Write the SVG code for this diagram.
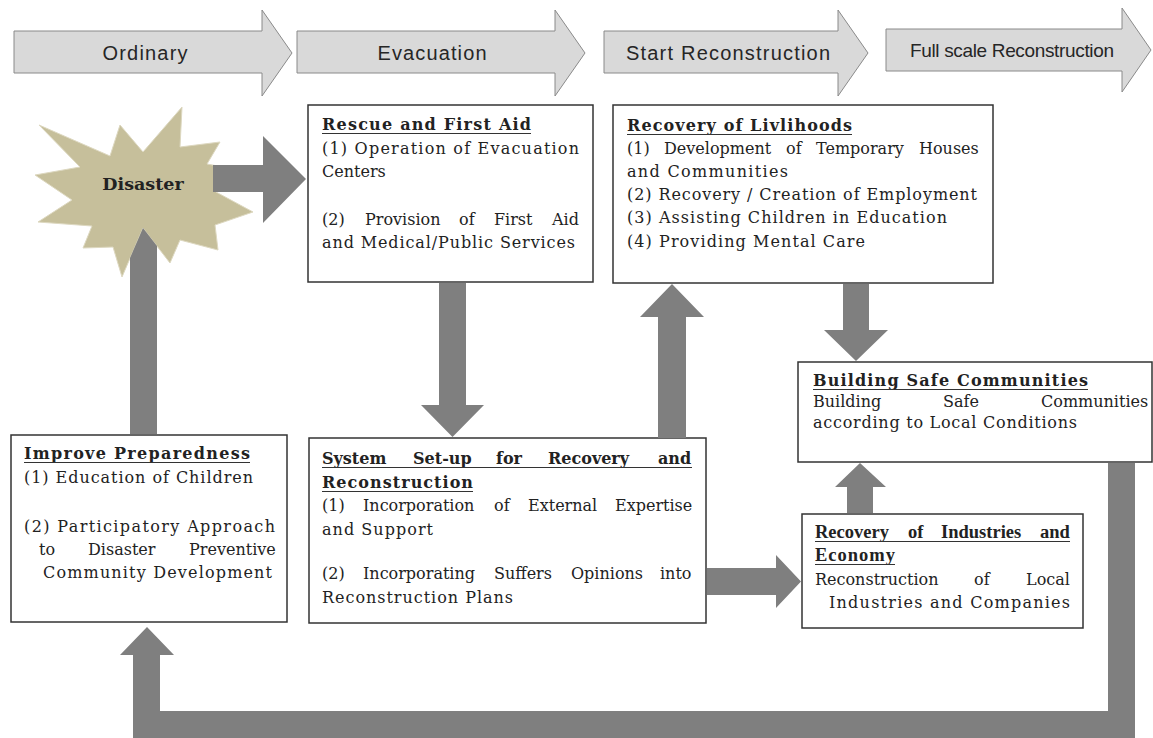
<svg xmlns="http://www.w3.org/2000/svg" width="1153" height="738" viewBox="0 0 1153 738">
<style>
.bg{fill:#ffffff}
.phase{fill:#d9d9d9;stroke:#8a8a8a;stroke-width:1}
.ph{font-family:"Liberation Sans","Open Sans",sans-serif;font-size:20px;fill:#262626;text-anchor:middle}
.box{fill:#ffffff;stroke:#333333;stroke-width:1.5}
.t{font-family:"DejaVu Serif","Liberation Serif",serif;font-size:16px;fill:#222222}
.b{font-weight:bold}
.c{font-family:"Liberation Serif","DejaVu Serif",serif;font-size:18.5px;font-weight:bold;fill:#222222}
.ul{stroke:#333333;stroke-width:1.2}
.arr{fill:#7f7f7f}
.star{fill:#c6bf9b;stroke:#ddd8c0;stroke-width:1}
</style>
<rect class="bg" x="0" y="0" width="1153" height="738"/>

<g id="phases">
  <g id="phase-ordinary">
    <path class="phase" d="M14,31 H262 V10 L292,53 L262,96 V73 H14 Z"/>
    <text class="ph" x="145" y="60" textLength="85">Ordinary</text>
  </g>
  <g id="phase-evacuation">
    <path class="phase" d="M297,31 H555 V10 L585,53 L555,96 V73 H297 Z"/>
    <text class="ph" x="432" y="60" textLength="109">Evacuation</text>
  </g>
  <g id="phase-start">
    <path class="phase" d="M604,31 H838 V10 L868,53 L838,96 V73 H604 Z"/>
    <text class="ph" x="728" y="60" textLength="204">Start Reconstruction</text>
  </g>
  <g id="phase-full">
    <path class="phase" d="M886,29 H1122 V8 L1151,50 L1122,92 V71 H886 Z"/>
    <text class="ph" x="1012" y="57" style="font-size:19px" textLength="204">Full scale Reconstruction</text>
  </g>
</g>

<g id="disaster">
  <polygon class="star" points="39,125 110,156 120,125 143,152 182,107 180,147 220,142 207,164 250,172 216,192 253,212 215,225 218,250 180,240 170,263 143,228 122,277 113,247 83,248 92,226 38,222 72,200 35,175 80,167"/>
  <text class="t b" x="143" y="190" style="font-size:17.5px;text-anchor:middle">Disaster</text>
</g>

<g id="rescue">
  <rect class="box" x="308" y="105" width="285" height="177"/>
  <text class="t b" x="322" y="130" textLength="209">Rescue and First Aid</text>
  <line class="ul" x1="322" y1="133.5" x2="531" y2="133.5"/>
  <text class="t" x="322" y="154" textLength="257">(1) Operation of Evacuation</text>
  <text class="t" x="322" y="177">Centers</text>
  <text class="t" y="225"><tspan x="322">(2)</tspan><tspan x="365">Provision</tspan><tspan x="459">of</tspan><tspan x="494">First</tspan><tspan x="552">Aid</tspan></text>
  <text class="t" x="322" y="248" textLength="253">and Medical/Public Services</text>
</g>

<g id="livelihoods">
  <rect class="box" x="613" y="105" width="380" height="178"/>
  <text class="t b" x="627" y="131" textLength="225">Recovery of Livlihoods</text>
  <line class="ul" x1="627" y1="134.5" x2="852" y2="134.5"/>
  <text class="t" y="154"><tspan x="627">(1)</tspan><tspan x="664">Development</tspan><tspan x="786">of</tspan><tspan x="816">Temporary</tspan><tspan x="919">Houses</tspan></text>
  <text class="t" x="627" y="177" textLength="161">and Communities</text>
  <text class="t" x="627" y="200" textLength="350">(2) Recovery / Creation of Employment</text>
  <text class="t" x="627" y="223" textLength="320">(3) Assisting Children in Education</text>
  <text class="t" x="627" y="247" textLength="238">(4) Providing Mental Care</text>
</g>

<g id="safe-communities">
  <rect class="box" x="798" y="362" width="354" height="100"/>
  <text class="t b" x="813" y="386" textLength="275">Building Safe Communities</text>
  <line class="ul" x1="813" y1="389.5" x2="1088" y2="389.5"/>
  <text class="t" y="407"><tspan x="813">Building</tspan><tspan x="943">Safe</tspan><tspan x="1041">Communities</tspan></text>
  <text class="t" x="813" y="428" textLength="264">according to Local Conditions</text>
</g>

<g id="preparedness">
  <rect class="box" x="11" y="435" width="276" height="187"/>
  <text class="t b" x="24" y="459" textLength="226">Improve Preparedness</text>
  <line class="ul" x1="24" y1="462.5" x2="250" y2="462.5"/>
  <text class="t" x="24" y="483" textLength="229">(1) Education of Children</text>
  <text class="t" x="24" y="532" textLength="251">(2) Participatory Approach</text>
  <text class="t" y="555"><tspan x="39">to</tspan><tspan x="88">Disaster</tspan><tspan x="189">Preventive</tspan></text>
  <text class="t" x="43" y="578" textLength="229">Community Development</text>
</g>

<g id="system-setup">
  <rect class="box" x="309" y="438" width="397" height="185"/>
  <text class="t b" y="464"><tspan x="322">System</tspan><tspan x="413">Set-up</tspan><tspan x="496">for</tspan><tspan x="548">Recovery</tspan><tspan x="658">and</tspan></text>
  <line class="ul" x1="322" y1="467.5" x2="692" y2="467.5"/>
  <text class="t b" x="322" y="488" textLength="151">Reconstruction</text>
  <line class="ul" x1="322" y1="491.5" x2="473" y2="491.5"/>
  <text class="t" y="511"><tspan x="322">(1)</tspan><tspan x="363">Incorporation</tspan><tspan x="494">of</tspan><tspan x="528">External</tspan><tspan x="615">Expertise</tspan></text>
  <text class="t" x="322" y="535" textLength="111">and Support</text>
  <text class="t" y="579"><tspan x="322">(2)</tspan><tspan x="363">Incorporating</tspan><tspan x="494">Suffers</tspan><tspan x="571">Opinions</tspan><tspan x="660">into</tspan></text>
  <text class="t" x="322" y="603" textLength="191">Reconstruction Plans</text>
</g>

<g id="industries">
  <rect class="box" x="802" y="514" width="281" height="114"/>
  <text class="c" y="538"><tspan x="815">Recovery</tspan><tspan x="908">of</tspan><tspan x="941">Industries</tspan><tspan x="1040">and</tspan></text>
  <line class="ul" x1="815" y1="541.5" x2="1070" y2="541.5"/>
  <text class="c" x="815" y="561" textLength="80">Economy</text>
  <line class="ul" x1="815" y1="564.5" x2="895" y2="564.5"/>
  <text class="t" y="585"><tspan x="815">Reconstruction</tspan><tspan x="974">of</tspan><tspan x="1026">Local</tspan></text>
  <text class="t" x="829" y="608" textLength="241">Industries and Companies</text>
</g>

<g id="connectors">
  <path class="arr" d="M213,165 H263 V136 L306,179 L263,223 V192 H213 Z"/>
  <path class="arr" d="M130,434 V258 L143,228 L157,246 V434 Z"/>
  <path class="arr" d="M439,283 H466 V405 H484 L452.5,437 L421,405 H439 Z"/>
  <path class="arr" d="M658,438 V317 H640 L672,284 L704,317 H686 V438 Z"/>
  <path class="arr" d="M843,284 H869 V330 H888 L856,361 L824,330 H843 Z"/>
  <path class="arr" d="M707,568 H776 V555 L801,581.5 L776,608 V595 H707 Z"/>
  <path class="arr" d="M847,513 V487 H835 L860,463 L886,487 H873 V513 Z"/>
  <path class="arr" d="M1108,463 H1135 V738 H133 V655 H120 L147,627 L174,655 H160 V711 H1108 Z"/>
</g>
</svg>
